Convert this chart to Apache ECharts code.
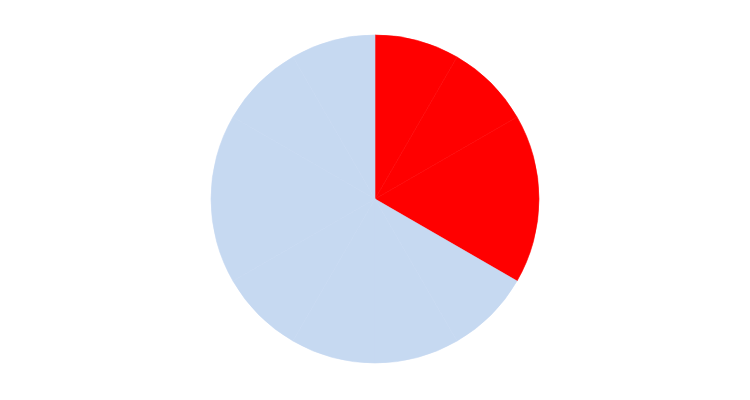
<!DOCTYPE html>
<html>
<head>
<meta charset="utf-8">
<script src="https://cdn.jsdelivr.net/npm/echarts@6/dist/echarts.min.js"></script>
<style>html,body{margin:0;padding:0;background:#fff}#c{width:750px;height:400px}</style>
</head>
<body>
<div id="c"></div>
<script>
const categories = ['A','B','C','D','E','F','G','H','I','J'];
const values = [1, 1, 2, 1, 1, 1, 1, 2, 1, 1];
const sliceColors = ['#FF0000','#FF0000','#FF0000','#C6D9F1','#C6D9F1','#C6D9F1','#C6D9F1','#C6D9F1','#C6D9F1','#C6D9F1'];

const chart = echarts.init(document.getElementById('c'), null, {renderer: 'canvas'});
chart.setOption({
  animation: false,
  series: [{
    type: 'pie',
    center: [375, 199],
    radius: [0, 164],
    startAngle: 90,
    clockwise: true,
    label: {show: false},
    labelLine: {show: false},
    emphasis: {disabled: true},
    data: categories.map((n, i) => ({
      name: n, value: values[i],
      itemStyle: {color: sliceColors[i], borderColor: sliceColors[i], borderWidth: 0.6}
    }))
  }]
});
</script>
</body>
</html>
